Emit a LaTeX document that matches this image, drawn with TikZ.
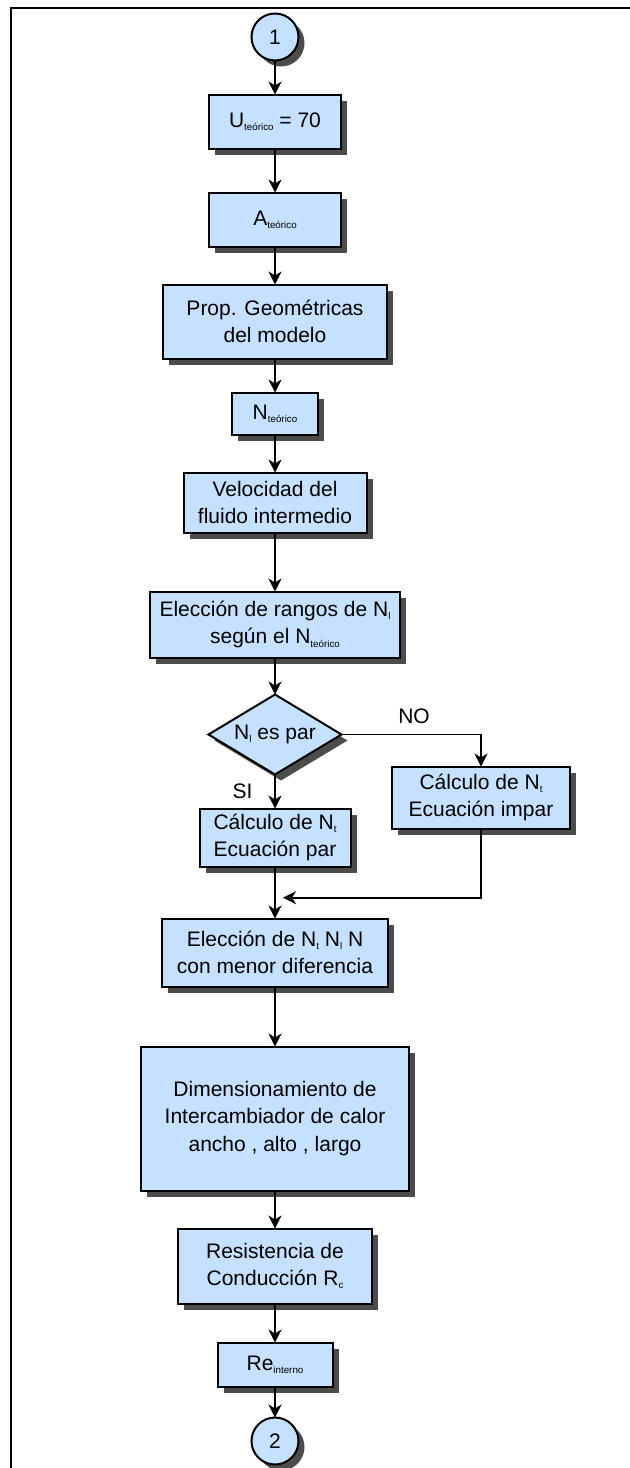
\documentclass[tikz,border=0pt]{standalone}
\usepackage{fontspec}
\setmainfont{Liberation Sans}
\usetikzlibrary{positioning,shapes.geometric,shadows,arrows.meta,calc}
\definecolor{boxblue}{RGB}{198,224,255}
\newcommand{\lowsub}[1]{\raisebox{-1.6pt}{\fontsize{4.9}{5}\selectfont #1}}

\begin{document}
\begin{tikzpicture}[
font=\fontsize{10.5}{13.8}\selectfont,
block/.style={rectangle, draw=black, line width=1pt, fill=boxblue, align=center, inner sep=1pt, outer sep=0pt, drop shadow={shadow xshift=3pt, shadow yshift=-3pt, fill=black!70, opacity=1}},
connector/.style={circle, draw=black, line width=1pt, fill=boxblue, minimum size=23.5pt, inner sep=0pt, outer sep=0pt, drop shadow={shadow xshift=3pt, shadow yshift=-3pt, fill=black!70, opacity=1}},
decision/.style={diamond, draw=black, line width=1pt, fill=boxblue, aspect=1.6, minimum width=66.5pt, minimum height=40pt, inner sep=0pt, outer sep=0pt, drop shadow={shadow xshift=3pt, shadow yshift=-3pt, fill=black!70, opacity=1}},
flow/.style={-{Stealth[length=6.5pt, width=6.5pt, inset=2pt]}, line width=0.95pt},
]
\useasboundingbox (0,0) rectangle (315pt,-734pt);

% frame round the page
\draw[line width=1.3pt] (5.5pt,-734pt) -- (5.5pt,-4pt) -- (315pt,-4pt);

% \node[type](name_of_node)[below=of name_of_node]{text_in_node}
\node[connector](circle_one) at (137.5pt,-18.5pt){1};
\node[block, minimum width=66pt, minimum height=27pt](u_teorico)[below=17pt of circle_one]{U\lowsub{teórico} = 70};
\node[block, minimum width=66pt, minimum height=27pt](a_teorico)[below=22pt of u_teorico]{A\lowsub{teórico}};
\node[block, minimum width=112pt, minimum height=37pt](prop_geom)[below=19pt of a_teorico]{Prop. Geométricas\\del modelo};
\node[block, minimum width=43pt, minimum height=21pt](n_teorico)[below=17pt of prop_geom]{N\lowsub{teórico}};
\node[block, minimum width=91.5pt, minimum height=30pt](velocidad)[below=19pt of n_teorico]{Velocidad del\\fluido intermedio};
\node[block, minimum width=125pt, minimum height=33pt](rangos)[below=29.5pt of velocidad]{Elección de rangos de N\lowsub{l}\\según el N\lowsub{teórico}};

\node[decision](ni_par)[below=18.5pt of rangos]{N\lowsub{l} es par};
\node[block, minimum width=75.5pt, minimum height=29pt](calc_par)[below=17pt of ni_par]{Cálculo de N\lowsub{t}\\Ecuación par};
\node[block, minimum width=89pt, minimum height=31pt](calc_impar)[below=16pt of ni_par.center, xshift=103pt]{Cálculo de N\lowsub{t}\\Ecuación impar};

\node[block, minimum width=113pt, minimum height=34pt](eleccion)[below=26pt of calc_par]{Elección de N\lowsub{t} N\lowsub{l} N\\con menor diferencia};
\node[block, minimum width=134pt, minimum height=72pt](dimension)[below=30pt of eleccion]{Dimensionamiento de\\Intercambiador de calor\\ancho , alto , largo};
\node[block, minimum width=97pt, minimum height=37.5pt](resistencia)[below=19pt of dimension]{Resistencia de\\Conducción R\lowsub{c}};
\node[block, minimum width=57.5pt, minimum height=22pt](re_interno)[below=19.5pt of resistencia]{Re\lowsub{interno}};
\node[connector](circle_two)[below=15.5pt of re_interno]{2};

\coordinate (join_pt) at ($(calc_par.south)!0.6!(eleccion.north)+(4pt,0)$);

% \draw[->] (name_of_node.direction) -- (name_of_node.direction)
\draw[flow] (circle_one.south) -- (u_teorico.north);
\draw[flow] (u_teorico.south) -- (a_teorico.north);
\draw[flow] (a_teorico.south) -- (prop_geom.north);
\draw[flow] (prop_geom.south) -- (n_teorico.north);
\draw[flow] (n_teorico.south) -- (velocidad.north);
\draw[flow] (velocidad.south) -- (rangos.north);
\draw[flow] (rangos.south) -- (ni_par.north);

\draw[flow] (ni_par.south) -- node[left=7.5pt]{SI} (calc_par.north);
\draw[flow] (ni_par.east) -| node[above=1.5pt, pos=0.26]{NO} (calc_impar.north);

\draw[flow] (calc_par.south) -- (eleccion.north);
\draw[flow] (calc_impar.south) |- (join_pt);

\draw[flow] (eleccion.south) -- (dimension.north);
\draw[flow] (dimension.south) -- (resistencia.north);
\draw[flow] (resistencia.south) -- (re_interno.north);
\draw[flow] (re_interno.south) -- (circle_two.north);

\end{tikzpicture}
\end{document}
